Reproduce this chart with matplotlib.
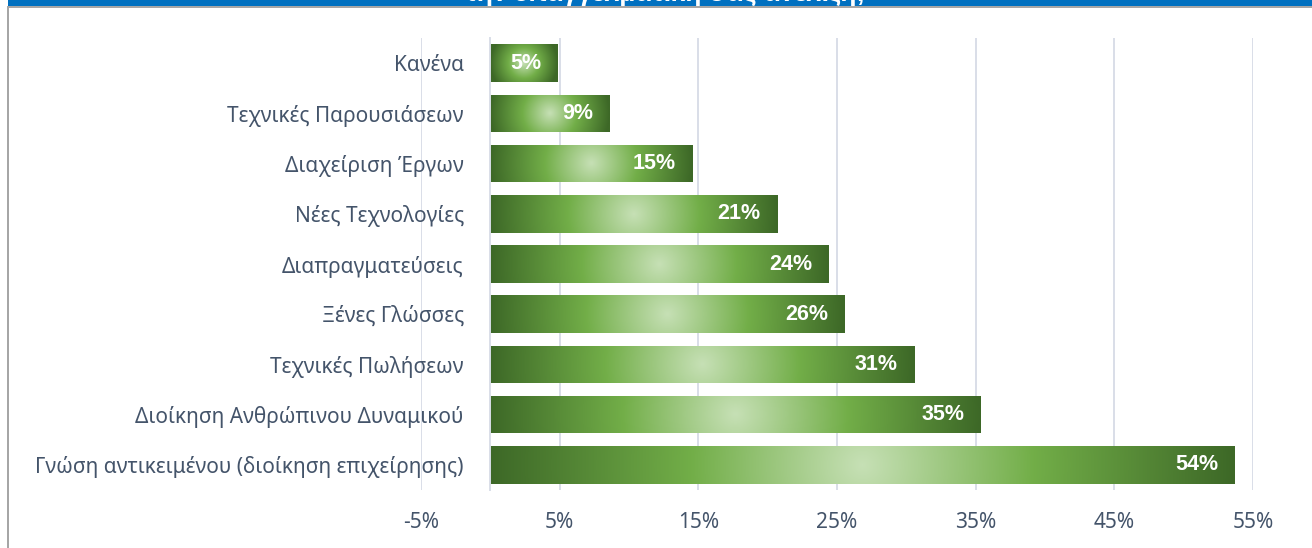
import numpy as np
import matplotlib
matplotlib.use('Agg')
import matplotlib.pyplot as plt
import matplotlib as mpl
from matplotlib.colors import LinearSegmentedColormap
from matplotlib.patches import Rectangle

plt.rcParams['font.family'] = ['Noto Sans', 'DejaVu Sans']
plt.rcParams['axes.unicode_minus'] = False

# data (top to bottom as shown)
skills = ['Κανένα',
          'Τεχνικές Παρουσιάσεων',
          'Διαχείριση Έργων',
          'Νέες Τεχνολογίες',
          'Διαπραγματεύσεις',
          'Ξένες Γλώσσες',
          'Τεχνικές Πωλήσεων',
          'Διοίκηση Ανθρώπινου Δυναμικού',
          'Γνώση αντικειμένου (διοίκηση επιχείρησης)']
shares = [0.049, 0.086, 0.146, 0.207, 0.244, 0.256, 0.306, 0.354, 0.537]
xticks = [-0.05, 0.05, 0.15, 0.25, 0.35, 0.45, 0.55]
title = 'την επαγγελματική σας ανέλιξη;'

txt_col = '#44546A'
grid_col = '#D9DEE8'
green = LinearSegmentedColormap.from_list(
    'grn', [(0.0, '#C6E0B5'), (0.46, '#72AE48'), (1.0, '#3D6827')])

W, H = 1312, 548
fig = plt.figure(figsize=(W / 100, H / 100), dpi=100)

# top banner + left border of the chart frame
fig.patches.append(Rectangle((8 / W, 1 - 6 / H), 1, 6 / H, transform=fig.transFigure,
                             facecolor='#0070C0', edgecolor='none', zorder=1))
fig.patches.append(Rectangle((8 / W, 1 - 8 / H), 1, 2 / H, transform=fig.transFigure,
                             facecolor='#A6A6A6', edgecolor='none', zorder=5))
fig.patches.append(Rectangle((7 / W, 0), 2 / W, 1 - 6 / H, transform=fig.transFigure,
                             facecolor='#A6A6A6', edgecolor='none', zorder=5))
# title is mostly outside the picture, only its lower edge shows in the banner
fig.text(0.507, 1 - 1 / H, title, color='white', fontsize=19, fontweight='bold',
         family='Liberation Sans', ha='center', va='baseline', zorder=2)

ax = fig.add_axes([421 / W, 1 - 490 / H, (1253 - 421) / W, (490 - 38) / H])
ypos = np.arange(len(skills))
bars = ax.barh(ypos, shares, height=0.75, color='none', edgecolor='none', zorder=2)
ax.set_xlim(-0.05, 0.55)
ax.set_ylim(len(skills) - 0.5, -0.5)

# gradient fill ("path from centre" look), one image per bar
for b in bars:
    x0, y0 = b.get_x(), b.get_y()
    w, h = b.get_width(), b.get_height()
    (px0, py0), (px1, py1) = ax.transData.transform([(x0, y0), (x0 + w, y0 + h)])
    wp, hp = abs(px1 - px0), abs(py1 - py0)
    nx, ny = max(int(wp), 2), max(int(hp), 2)
    gx = np.linspace(-wp / 2, wp / 2, nx)
    gy = np.linspace(-hp / 2, hp / 2, ny)
    XX, YY = np.meshgrid(gx, gy)
    d = np.clip(np.sqrt(XX ** 2 + YY ** 2) / (wp / 2), 0, 1)
    im = ax.imshow(d, cmap=green, vmin=0, vmax=1, extent=[x0, x0 + w, y0 + h, y0],
                   aspect='auto', interpolation='bilinear', zorder=2)
    im.set_clip_path(b)

for y, v in zip(ypos, shares):
    ax.annotate(f'{v:.0%}', (v, y), xytext=(-12, 0), textcoords='offset points',
                ha='right', va='center', color='white', fontsize=15.5, fontweight='bold',
                family='Liberation Sans', zorder=3)

ax.set_xticks(xticks)
ax.xaxis.set_major_formatter(mpl.ticker.PercentFormatter(1, decimals=0))
ax.set_yticks(ypos)
ax.set_yticklabels(skills)
ax.tick_params(axis='x', length=0, pad=16, labelsize=15, labelcolor=txt_col)
ax.tick_params(axis='y', length=0, pad=19, labelsize=15, labelcolor=txt_col)

ax.set_axisbelow(True)
ax.xaxis.grid(True, color=grid_col, linewidth=1.4)
for s in ['top', 'right', 'bottom']:
    ax.spines[s].set_visible(False)
ax.spines['left'].set_position(('data', 0))
ax.spines['left'].set_color(grid_col)
ax.spines['left'].set_linewidth(1.4)

plt.savefig('out.png', dpi=100)
